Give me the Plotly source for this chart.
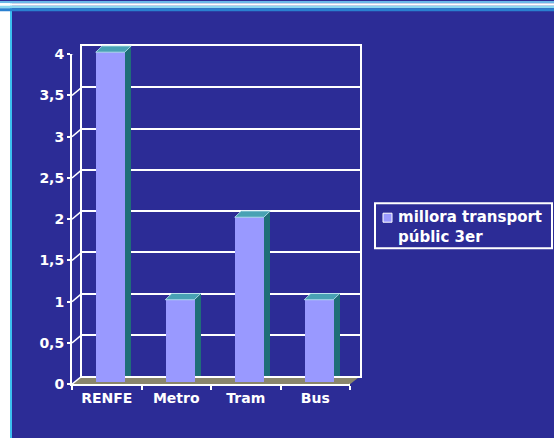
import plotly.graph_objects as go

# ---- data ----
categories = ["RENFE", "Metro", "Tram", "Bus"]
values = [4, 1, 2, 1]
series_name = "millora transport<br>públic 3er"
y_tickvals = [0, 0.5, 1, 1.5, 2, 2.5, 3, 3.5, 4]
y_ticktext = ["0", "0,5", "1", "1,5", "2", "2,5", "3", "3,5", "4"]

# ---- layout helpers ----
W, H = 554, 454
TOP_SHIFT = 7  # figure is placed 7px above the page top
# observed vertical mapping of the photographed page: shot_y = A + B * page_y
A, B = 6.6, 0.9645
def cy(ref_y):          # target picture y -> figure y
    return (ref_y - A) / B + TOP_SHIFT
def fx(px):
    return px / W
def fy(ref_y):
    return 1 - cy(ref_y) / H
def fy_fig(fig_y):
    return 1 - fig_y / H

PANEL = "#2c2c96"
BAR_FRONT = "#9999ff"
BAR_SIDE = "#1f6e78"
BAR_TOP = "#48a2b4"
FLOOR = "#8a866c"
FONT = "DejaVu Sans"

# front plane (axes), back plane (grid), bar plane  -- picture pixels
front_x = (72, 350); front_y = (53, 383)
back_x = (82, 360); back_y = (45, 375)
bar_x = (75.5, 353.5); bar_y = (51, 381)
y_max = 4
bar_y_ext = 4.3  # headroom so the top faces are not clipped
bar_pxu = (cy(bar_y[1]) - cy(bar_y[0])) / y_max
bar_top_fig = cy(bar_y[1]) - bar_pxu * bar_y_ext

bar_width = 0.417
px_per_cat = (bar_x[1] - bar_x[0]) / 4
bar_px = bar_width * px_per_cat
dx = back_x[0] - bar_x[0]
dy = cy(bar_y[1]) - cy(back_y[1])
wall_dx = back_x[0] - front_x[0]
wall_dy = cy(front_y[1]) - cy(back_y[1])

fig = go.Figure()

# side faces (offset bars on back plane)
fig.add_trace(go.Bar(x=categories, y=values, width=bar_width, marker=dict(color=BAR_SIDE, line=dict(width=0)),
                     xaxis="x", yaxis="y", showlegend=False, hoverinfo="skip"))
# invisible trace for front category axis
fig.add_trace(go.Scatter(x=categories, y=values, mode="markers", marker=dict(opacity=0),
                         xaxis="x2", yaxis="y2", showlegend=False, hoverinfo="skip"))
# front faces
fig.add_trace(go.Bar(x=categories, y=values, width=bar_width, name=series_name,
                     marker=dict(color=BAR_FRONT, line=dict(width=0)),
                     xaxis="x3", yaxis="y3", showlegend=False))

shapes = []
# frame decorations: left strip and top stripes
shapes.append(dict(type="rect", xref="paper", yref="paper", x0=0, x1=fx(10), y0=0, y1=1,
                   fillcolor="white", line=dict(width=0), layer="below"))
shapes.append(dict(type="rect", xref="paper", yref="paper", x0=fx(10), x1=fx(12), y0=0, y1=1,
                   fillcolor="#3cc0f0", line=dict(width=0), layer="below"))
for (y0, y1, col) in [(-10, 2, "#6ab8e8"), (2, 4.5, "#ffffff"), (4.5, 7, "#8ad8f0"), (7, 10, "#2a80d0")]:
    shapes.append(dict(type="rect", xref="paper", yref="paper", x0=0, x1=1, y0=fy(y1), y1=min(1, fy(y0)),
                       fillcolor=col, line=dict(width=0), layer="below"))
# floor
shapes.append(dict(type="path", xref="paper", yref="paper",
                   path=f"M{fx(front_x[0])},{fy(front_y[1])} L{fx(front_x[1])},{fy(front_y[1])} "
                        f"L{fx(back_x[1])},{fy(back_y[1])} L{fx(back_x[0])},{fy(back_y[1])} Z",
                   fillcolor=FLOOR, line=dict(width=0), layer="below"))
# left wall depth lines at each tick
for v in y_tickvals:
    shapes.append(dict(type="line", xref="x2", yref="y2", xsizemode="pixel", ysizemode="pixel",
                       xanchor=-0.5, yanchor=v, x0=0, y0=0, x1=wall_dx, y1=wall_dy,
                       line=dict(color="white", width=1.5)))
# floor right edge
shapes.append(dict(type="line", xref="x2", yref="y2", xsizemode="pixel", ysizemode="pixel",
                   xanchor=3.5, yanchor=0, x0=0, y0=0,
                   x1=back_x[1] - front_x[1], y1=wall_dy,
                   line=dict(color="white", width=1.5)))
# top faces
for i, v in enumerate(values):
    shapes.append(dict(type="path", xref="x3", yref="y3", xsizemode="pixel", ysizemode="pixel",
                       xanchor=i - bar_width / 2, yanchor=v,
                       path=f"M0,0 L{bar_px},0 L{bar_px + dx},{dy} L{dx},{dy} Z",
                       fillcolor=BAR_TOP, line=dict(color="rgba(190,230,240,0.8)", width=1), layer="above"))

# manual legend
shapes.append(dict(type="rect", xref="paper", yref="paper", x0=fx(375), x1=fx(552), y0=fy(247), y1=fy(202),
                   line=dict(color="white", width=2), fillcolor="rgba(0,0,0,0)"))
shapes.append(dict(type="rect", xref="paper", yref="paper", x0=fx(383), x1=fx(392), y0=fy(221), y1=fy(212),
                   line=dict(color="white", width=1), fillcolor=BAR_FRONT))

annotations = [dict(xref="paper", yref="paper", x=fx(396), y=fy(225.5), xanchor="left", yanchor="middle",
                    text=series_name, showarrow=False, align="left",
                    font=dict(family=FONT, size=15, color="white", weight="bold"))]

tickfont = dict(family=FONT, size=14, color="white", weight="bold")

fig.update_layout(
    width=W, height=H, margin=dict(l=0, r=0, t=0, b=0),
    paper_bgcolor=PANEL, plot_bgcolor="rgba(0,0,0,0)",
    showlegend=False, bargap=0,
    shapes=shapes, annotations=annotations,
    xaxis=dict(domain=[fx(back_x[0]), fx(back_x[1])], anchor="y", range=[-0.5, 3.5],
               categoryorder="array", categoryarray=categories,
               showgrid=False, showticklabels=False, ticks="", showline=True, linecolor="white",
               linewidth=1.5, mirror=True, zeroline=False),
    yaxis=dict(domain=[fy(back_y[1]), fy(back_y[0])], anchor="x", range=[0, y_max], tickvals=y_tickvals,
               showgrid=True, gridcolor="white", gridwidth=1.5, showticklabels=False, ticks="",
               showline=True, linecolor="white", linewidth=1.5, mirror=True, zeroline=False),
    xaxis2=dict(domain=[fx(front_x[0]), fx(front_x[1])], anchor="y2", range=[-0.5, 3.5],
                categoryorder="array", categoryarray=categories,
                showgrid=False, showline=True, linecolor="white", linewidth=2,
                ticks="outside", tickson="boundaries", ticklen=4, tickcolor="white", tickwidth=1.5,
                tickfont=tickfont, zeroline=False),
    yaxis2=dict(domain=[fy(front_y[1]), fy(front_y[0])], anchor="x2", range=[0, y_max],
                tickvals=y_tickvals, ticktext=y_ticktext, showgrid=False, zeroline=False,
                showline=True, linecolor="white", linewidth=2,
                ticks="outside", ticklen=3, tickcolor="white", tickwidth=1.5, tickfont=tickfont),
    xaxis3=dict(domain=[fx(bar_x[0]), fx(bar_x[1])], anchor="y3", range=[-0.5, 3.5],
                categoryorder="array", categoryarray=categories, visible=False),
    yaxis3=dict(domain=[fy(bar_y[1]), fy_fig(bar_top_fig)], anchor="x3", range=[0, bar_y_ext], visible=False),
)

post = (
    "var r=document.documentElement,b=document.body;"
    "b.style.margin='0';b.style.padding='0';b.style.overflow='hidden';r.style.overflow='hidden';"
    "r.style.backgroundColor='" + PANEL + "';"
    "var gd=document.getElementById('{plot_id}');gd.style.position='fixed';gd.style.left='0px';"
    "gd.style.top='-" + str(TOP_SHIFT) + "px';"
)
fig.write_html("out.html", config={"displayModeBar": False}, post_script=post)
